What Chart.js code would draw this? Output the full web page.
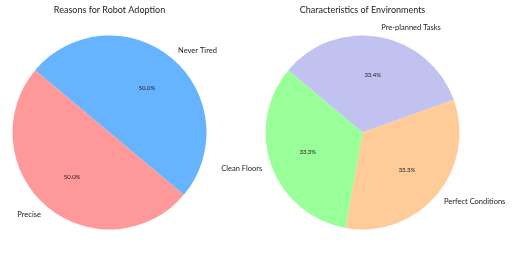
<!DOCTYPE html>
<html><head><meta charset="utf-8">
<script src="https://cdn.jsdelivr.net/npm/chart.js@4/dist/chart.umd.min.js"></script>
<style>
html,body{margin:0;padding:0;background:#fff;}
#wrap{position:relative;width:512px;height:256px;}
canvas{position:absolute;left:0;top:0;}
</style></head>
<body><div id="wrap"><canvas id="c1" width="512" height="256"></canvas><canvas id="c2" width="512" height="256"></canvas></div>
<script>
// Left chart: listed clockwise from the 140° start
const adoptionTitle = "Reasons for Robot Adoption";
const adoptionLabels = ["Never Tired", "Precise"];
const adoptionValues = [50, 50];
const adoptionColors = ["#66b3ff", "#ff9999"];

const envTitle = "Characteristics of Environments";
const envLabels = ["Pre-planned Tasks", "Perfect Conditions", "Clean Floors"];
const envValues = [33.4, 33.3, 33.3];
const envColors = ["#c2c2f0", "#ffcc99", "#99ff99"];

const FONT = "Lato";
const labelPlugin = {
  id: 'pieLabels',
  afterDatasetsDraw(chart, args, opts) {
    const ctx = chart.ctx;
    const meta = chart.getDatasetMeta(0);
    const data = chart.data.datasets[0].data;
    const total = data.reduce((a, b) => a + b, 0);
    ctx.save();
    ctx.fillStyle = '#222';
    meta.data.forEach((arc, i) => {
      const p = arc.getProps(['x', 'y', 'startAngle', 'endAngle', 'outerRadius'], true);
      const mid = (p.startAngle + p.endAngle) / 2;
      const c = Math.cos(mid), s = Math.sin(mid);
      ctx.font = '7.5px ' + FONT;
      ctx.textBaseline = 'middle';
      ctx.textAlign = c >= 0 ? 'left' : 'right';
      ctx.fillText(chart.data.labels[i], p.x + c * p.outerRadius * 1.1, p.y + s * p.outerRadius * 1.1);
      ctx.font = '6px ' + FONT;
      ctx.textAlign = 'center';
      ctx.fillText((data[i] / total * 100).toFixed(1) + '%', p.x + c * p.outerRadius * 0.6, p.y + s * p.outerRadius * 0.6);
    });
    // title
    const a0 = meta.data[0];
    ctx.font = '9px ' + FONT;
    ctx.textAlign = 'center';
    ctx.textBaseline = 'middle';
    ctx.fillText(opts.text, a0.x, 10);
    ctx.restore();
  }
};

function makePie(id, title, labels, values, colors, padding) {
  return new Chart(document.getElementById(id), {
    type: 'pie',
    data: { labels: labels, datasets: [{ data: values, backgroundColor: colors, borderWidth: 0 }] },
    options: {
      responsive: false, animation: false, rotation: -50,
      layout: { padding: padding },
      plugins: { legend: { display: false }, tooltip: { enabled: false }, pieLabels: { text: title } }
    },
    plugins: [labelPlugin]
  });
}
makePie('c1', adoptionTitle, adoptionLabels, adoptionValues, adoptionColors, { left: 12.5, right: 305.5, top: 35.5, bottom: 26.5 });
makePie('c2', envTitle, envLabels, envValues, envColors, { left: 265.5, right: 52.5, top: 35.5, bottom: 26.5 });
</script></body></html>
